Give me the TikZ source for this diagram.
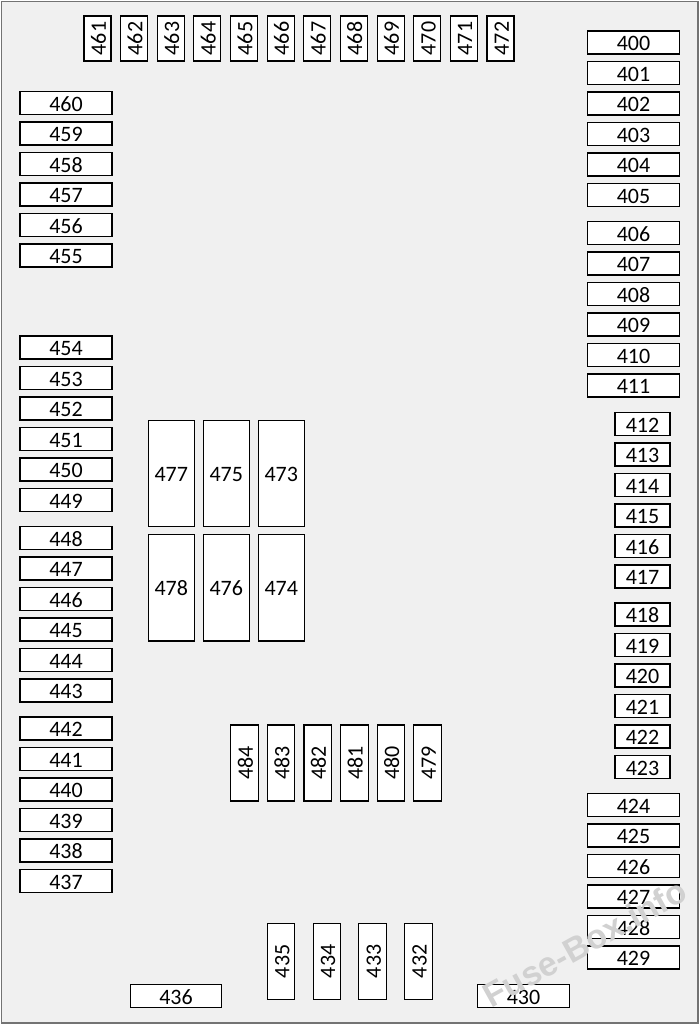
\documentclass[tikz,border=0pt]{standalone}
\usepackage{fontspec}
\setmainfont{Carlito}
\newfontfamily\wmfont{Liberation Sans}
\begin{document}
\begin{tikzpicture}[x=1pt,y=-1pt,
  fusebox/.style={draw=black,fill=white,line width=1.1pt,inner sep=0pt,
    font=\fontsize{22}{22}\selectfont,text height=16.5pt,text depth=0pt},
  wide/.style={fusebox,minimum width=92pt,minimum height=23pt},
  narrow/.style={fusebox,minimum width=55pt,minimum height=23pt},
  tallv/.style={fusebox,rotate=90,minimum width=45pt,minimum height=27pt},
  midv/.style={fusebox,rotate=90,minimum width=76pt,minimum height=27.5pt},
  big/.style={fusebox,minimum width=46pt,minimum height=106.5pt}]
\useasboundingbox (0,0) rectangle (700,1025);
\draw[draw=black!55,fill=black!6,line width=1.6pt] (1.5,1.5) rectangle (698,1023);
% top row
\foreach \i in {0,...,11}{
  \pgfmathtruncatemacro{\n}{461+\i}
  \node[tallv] (f\n) at ({97.5+36.64*\i},38.5) {\n};
}
% left column
\foreach \i in {0,...,5}{
  \pgfmathtruncatemacro{\a}{460-\i}
  \pgfmathtruncatemacro{\b}{454-\i}
  \pgfmathtruncatemacro{\c}{448-\i}
  \pgfmathtruncatemacro{\d}{442-\i}
  \node[wide] (f\a) at (66,{103+30.5*\i}) {\a};
  \node[wide] (f\b) at (66,{347.5+30.5*\i}) {\b};
  \node[wide] (f\c) at (66,{538+30.5*\i}) {\c};
  \node[wide] (f\d) at (66,{728.5+30.5*\i}) {\d};
}
% right column
\foreach \i in {0,...,5}{
  \pgfmathtruncatemacro{\a}{400+\i}
  \pgfmathtruncatemacro{\b}{406+\i}
  \pgfmathtruncatemacro{\c}{412+\i}
  \pgfmathtruncatemacro{\d}{418+\i}
  \pgfmathtruncatemacro{\e}{424+\i}
  \node[wide] (f\a) at (633.5,{42.5+30.5*\i}) {\a};
  \node[wide] (f\b) at (633.5,{233+30.5*\i}) {\b};
  \node[narrow] (f\c) at (642.5,{424+30.5*\i}) {\c};
  \node[narrow] (f\d) at (642.5,{614.5+30.5*\i}) {\d};
  \node[wide] (f\e) at (633.5,{805+30.5*\i}) {\e};
}
% big fuses
\node[big] (f477) at (171.3,473.3) {477};
\node[big] (f475) at (226.3,473.3) {475};
\node[big] (f473) at (281.3,473.3) {473};
\node[big] (f478) at (171.3,587.7) {478};
\node[big] (f476) at (226.3,587.7) {476};
\node[big] (f474) at (281.3,587.7) {474};
% middle vertical fuses
\foreach \i in {0,...,5}{
  \pgfmathtruncatemacro{\n}{484-\i}
  \node[midv] (f\n) at ({244.5+36.6*\i},763) {\n};
}
% bottom vertical fuses
\foreach \i in {0,...,3}{
  \pgfmathtruncatemacro{\n}{435-\i}
  \node[midv] (f\n) at ({281+45.8*\i},961.3) {\n};
}
\node[wide,minimum width=91pt] (f436) at (176,996) {436};
\node[wide] (f430) at (523.5,996) {430};
% watermark
\node[rotate=29,text=black!18,font=\wmfont\bfseries\fontsize{34}{34}\selectfont] (wm) at (585,943) {Fuse-Box.info};
\end{tikzpicture}
\end{document}
